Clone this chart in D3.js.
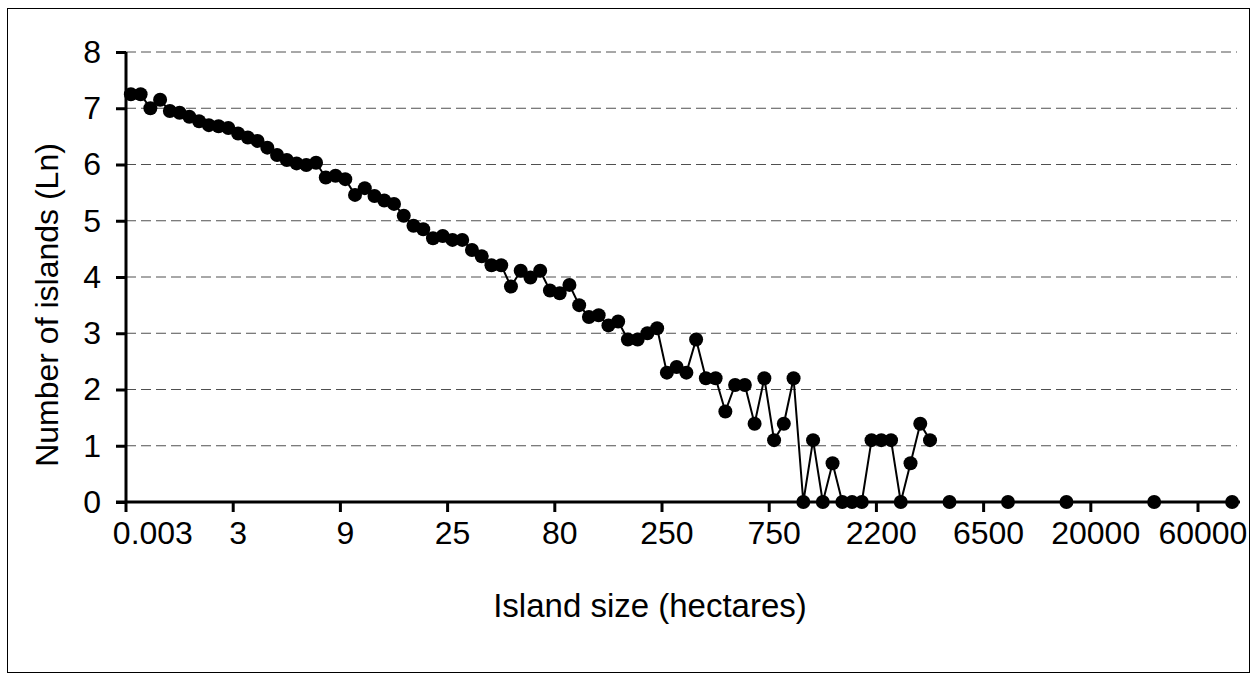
<!DOCTYPE html>
<html>
<head>
<meta charset="utf-8">
<script src="https://cdn.jsdelivr.net/npm/d3@7"></script>
<style>
	body { margin: 0; background: #fff; }
	svg text { font-family: "Liberation Sans", Arial, sans-serif; fill: #000; }
</style>
</head>
<body>
<div id="chart"></div>
<script>
// ln(number of islands) per size class; null = no islands in that class
const lnCounts = [
	7.25, 7.25, 7.00, 7.15, 6.95, 6.92, 6.85, 6.77, 6.70, 6.68,
	6.65, 6.55, 6.48, 6.42, 6.30, 6.17, 6.08, 6.02, 5.99, 6.03,
	5.77, 5.80, 5.74, 5.46, 5.58, 5.44, 5.36, 5.30, 5.09, 4.91,
	4.85, 4.69, 4.73, 4.66, 4.66, 4.48, 4.37, 4.21, 4.21, 3.83,
	4.11, 3.99, 4.11, 3.76, 3.71, 3.86, 3.50, 3.29, 3.32, 3.14,
	3.21, 2.89, 2.89, 3.00, 3.09, 2.30, 2.40, 2.30, 2.89, 2.20,
	2.20, 1.61, 2.08, 2.08, 1.39, 2.20, 1.10, 1.39, 2.20, 0,
	1.10, 0, 0.69, 0, 0, 0, 1.10, 1.10, 1.10, 0,
	0.69, 1.39, 1.10, null, 0, null, null, null, null, null,
	0, null, null, null, null, null, 0, null, null, null,
	null, null, null, null, null, 0, null, null, null, null,
	null, null, null, 0
];

const sizeLabels = ["0.003", "3", "9", "25", "80", "250", "750", "2200", "6500", "20000", "60000"];
const labelEvery = 11;
const yTicks = [0, 1, 2, 3, 4, 5, 6, 7, 8];

const W = 1257, H = 680;
const plot = { left: 126, right: 1237, top: 52, bottom: 502 };
const fontSize = 32;

const svg = d3.select("#chart").append("svg")
	.attr("width", W)
	.attr("height", H);

// outer chart frame
svg.append("rect")
	.attr("x", 7.5).attr("y", 8.5)
	.attr("width", 1242).attr("height", 664)
	.attr("fill", "none")
	.attr("stroke", "#000")
	.attr("stroke-width", 1);

const nCats = lnCounts.length;
const x = d3.scaleLinear().domain([0, nCats]).range([plot.left, plot.right]);
const y = d3.scaleLinear().domain([0, 8]).range([plot.bottom, plot.top]);

// dashed gridlines
svg.append("g")
	.selectAll("line")
	.data(yTicks.filter(d => d > 0))
	.join("line")
	.attr("x1", plot.left).attr("x2", plot.right)
	.attr("y1", d => y(d)).attr("y2", d => y(d))
	.attr("stroke", "#505050")
	.attr("stroke-width", 1)
	.attr("stroke-dasharray", "10,5");

// y axis
svg.append("g")
	.attr("transform", `translate(${plot.left},0)`)
	.call(d3.axisLeft(y).tickValues(yTicks).tickSize(10).tickPadding(15).tickFormat(d3.format("d")))
	.call(g => g.select(".domain").attr("stroke", "#000").attr("stroke-width", 3).attr("d", `M0,${plot.top}V${plot.bottom}`))
	.call(g => g.selectAll(".tick line").attr("stroke", "#000").attr("stroke-width", 3))
	.call(g => g.selectAll(".tick text").attr("font-size", fontSize).attr("fill", "#000"));

// x axis: ticks on category boundaries, labels centred on categories
const tickIdx = sizeLabels.map((_, i) => i * labelEvery);

const xAxis = svg.append("g")
	.attr("transform", `translate(0,${plot.bottom})`);

xAxis.append("line")
	.attr("x1", plot.left - 10).attr("x2", plot.right + 3)
	.attr("y1", 0).attr("y2", 0)
	.attr("stroke", "#000").attr("stroke-width", 3);

xAxis.selectAll(".xt")
	.data(tickIdx)
	.join("line")
	.attr("class", "xt")
	.attr("x1", d => x(d)).attr("x2", d => x(d))
	.attr("y1", 0).attr("y2", 10)
	.attr("stroke", "#000").attr("stroke-width", 3);

xAxis.selectAll(".xl")
	.data(sizeLabels)
	.join("text")
	.attr("class", "xl")
	.attr("x", (d, i) => x(i * labelEvery + 0.5))
	.attr("dx", (d, i) => i === 0 ? 22 : 0)
	.attr("y", 42)
	.attr("text-anchor", "middle")
	.attr("font-size", fontSize)
	.text(d => d);

// series
const pts = lnCounts.map((v, i) => ({ i, v }));

const line = d3.line()
	.defined(d => d.v !== null)
	.x(d => x(d.i + 0.5))
	.y(d => y(d.v));

svg.append("path")
	.datum(pts)
	.attr("d", line)
	.attr("fill", "none")
	.attr("stroke", "#000")
	.attr("stroke-width", 2);

svg.append("g")
	.selectAll("circle")
	.data(pts.filter(d => d.v !== null))
	.join("circle")
	.attr("cx", d => x(d.i + 0.5))
	.attr("cy", d => y(d.v))
	.attr("r", 7)
	.attr("fill", "#000");

// axis titles
svg.append("text")
	.attr("x", 650)
	.attr("y", 617)
	.attr("text-anchor", "middle")
	.attr("font-size", 33)
	.text("Island size (hectares)");

svg.append("text")
	.attr("transform", `translate(58,${(plot.top + plot.bottom) / 2 + 28}) rotate(-90)`)
	.attr("text-anchor", "middle")
	.attr("font-size", fontSize)
	.text("Number of islands (Ln)");
</script>
</body>
</html>
